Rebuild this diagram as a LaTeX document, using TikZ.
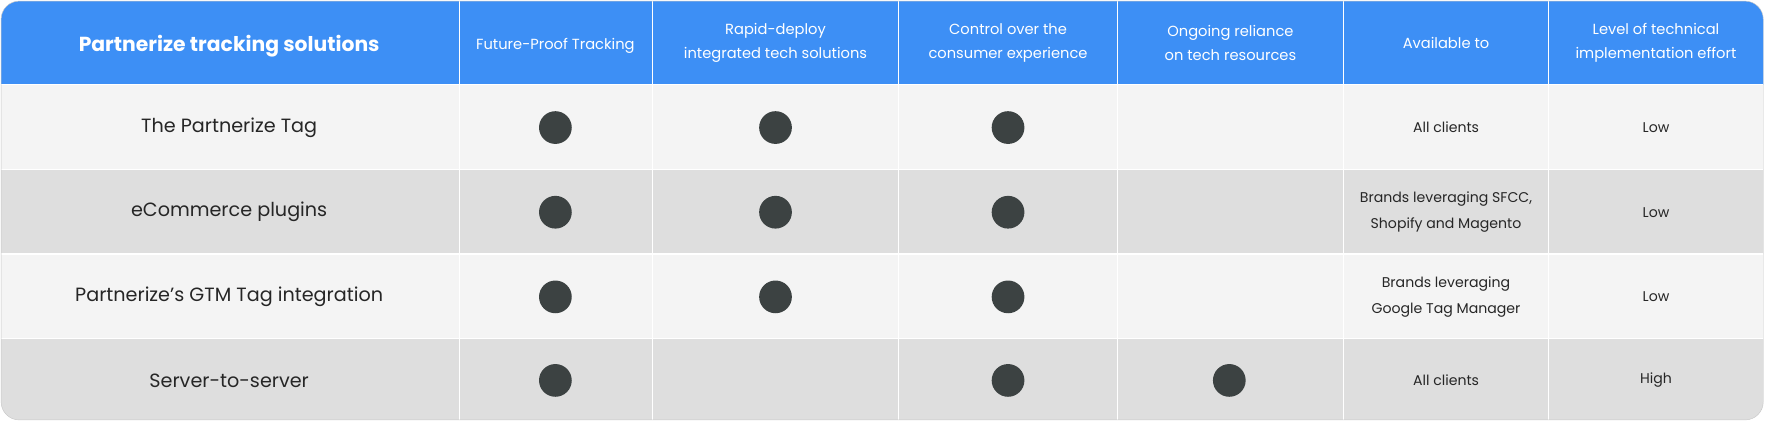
\documentclass[tikz,border=0pt]{standalone}
\usepackage{fontspec}
\setmainfont{Poppins}
\definecolor{hdr}{HTML}{3D8FF5}
\definecolor{rowa}{HTML}{F4F4F4}
\definecolor{rowb}{HTML}{DEDEDE}
\definecolor{dotc}{HTML}{3C4242}
\definecolor{edge}{HTML}{C8C8C8}
\begin{document}
\begin{tikzpicture}[x=1pt,y=-1pt,
  hd/.style={text=white,font=\fontsize{13}{21}\selectfont,align=center},
  lab/.style={text=black!85,font=\fontsize{17}{20}\selectfont},
  sm/.style={text=black!85,font=\fontsize{12.5}{23}\selectfont,align=center},
  dot/.style={circle,fill=dotc,minimum size=29pt,inner sep=0pt}]
\useasboundingbox (0,0) rectangle (1568,374);
\begin{scope}
\clip[rounded corners=16pt] (1,1) rectangle (1562,372);
\fill[hdr] (0,0) rectangle (1568,75);
\fill[rowa] (0,75) rectangle (1568,150);
\fill[rowb] (0,150) rectangle (1568,225);
\fill[rowa] (0,225) rectangle (1568,300);
\fill[rowb] (0,300) rectangle (1568,374);
\foreach \x in {407,578,796,990,1190,1372}{\draw[white,line width=1pt] (\x,0) -- (\x,374);}
\foreach \y in {75,150,225,300}{\draw[white,line width=1pt] (0,\y) -- (1568,\y);}
\end{scope}
\draw[edge,rounded corners=16pt] (1,1) rectangle (1562,372);
% header
\node[hd,font=\bfseries\fontsize{18}{21}\selectfont] (h0) at (203,41) {Partnerize tracking solutions};
\node[hd] (h1) at (492,41) {Future-Proof Tracking};
\node[hd] (h2) at (687,38) {Rapid-deploy\\integrated tech solutions};
\node[hd] (h3) at (893,38) {Control over the\\consumer experience};
\node[hd] (h4) at (1090,38) {Ongoing reliance\\on tech resources};
\node[hd] (h5) at (1281,38) {Available to};
\node[hd] (h6) at (1467,38) {Level of technical\\implementation effort};
% rows
\node[lab] (r1) at (203,113) {The Partnerize Tag};
\node[lab] (r2) at (203,188) {eCommerce plugins};
\node[lab] (r3) at (203,263) {Partnerize’s GTM Tag integration};
\node[lab] (r4) at (203,337) {Server-to-server};
\node[dot] (d11) at (492,113) {}; \node[dot] (d12) at (687,113) {}; \node[dot] (d13) at (893,113) {};
\node[dot] (d21) at (492,188) {}; \node[dot] (d22) at (687,188) {}; \node[dot] (d23) at (893,188) {};
\node[dot] (d31) at (492,263) {}; \node[dot] (d32) at (687,263) {}; \node[dot] (d33) at (893,263) {};
\node[dot] (d41) at (492,337) {}; \node[dot] (d43) at (893,337) {}; \node[dot] (d44) at (1089,337) {};
\node[sm] (a1) at (1281,113) {All clients};
\node[sm] (a2) at (1281,188) {Brands leveraging SFCC,\\Shopify and Magento};
\node[sm] (a3) at (1281,263) {Brands leveraging\\Google Tag Manager};
\node[sm] (a4) at (1281,337) {All clients};
\node[sm] (l1) at (1467,113) {Low};
\node[sm] (l2) at (1467,188) {Low};
\node[sm] (l3) at (1467,263) {Low};
\node[sm] (l4) at (1467,337) {High};
\end{tikzpicture}
\end{document}
